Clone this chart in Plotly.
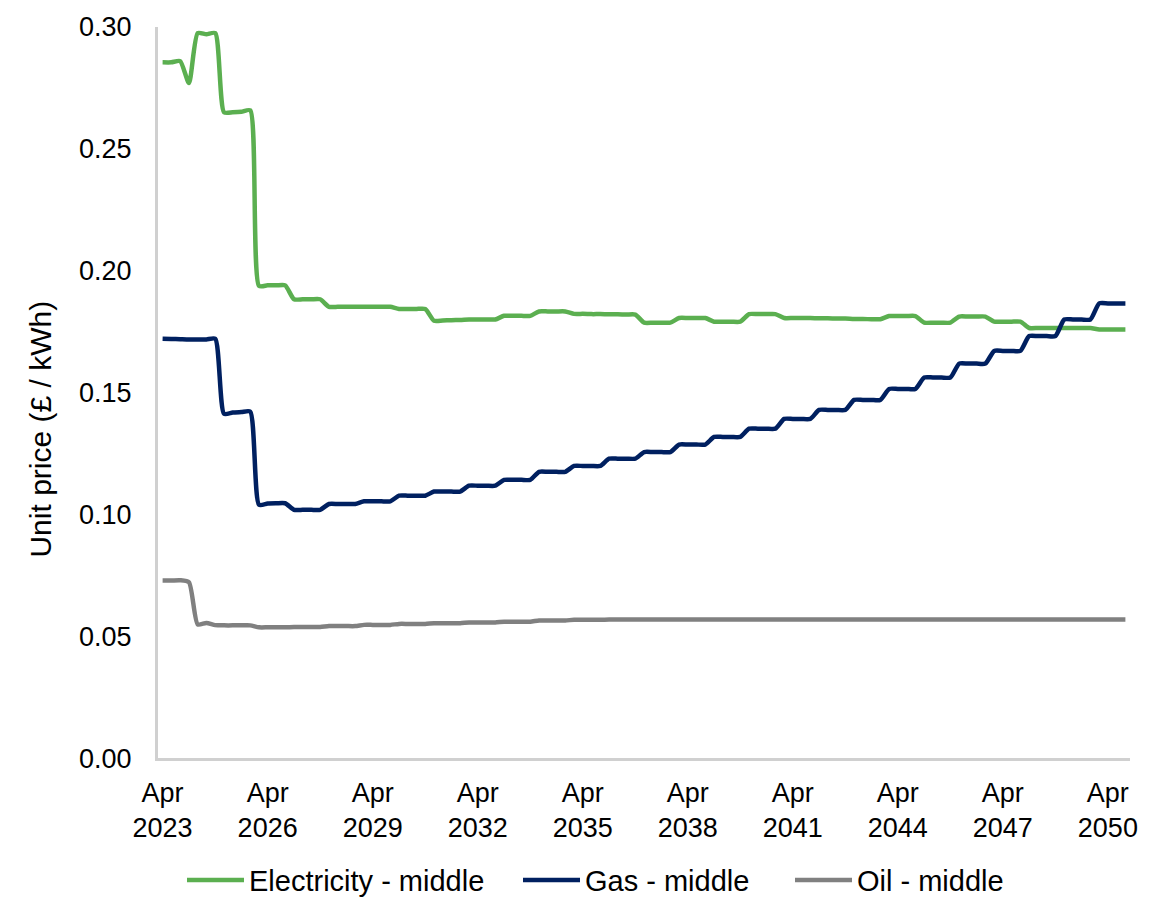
import pandas as pd
import plotly.graph_objects as go

# Quarterly dates: Apr 2023 ... Oct 2050
dates = pd.date_range("2023-04-01", "2050-10-01", freq="QS-JAN")

# Unit prices (£ / kWh), one value per quarter (Apr23, Jul23, Oct23, then Jan/Apr/Jul/Oct each year)
electricity = [
    0.2855, 0.2855, 0.2860,
    0.2770, 0.2975, 0.2970, 0.2975,   # 2024
    0.2650, 0.2650, 0.2652, 0.2658,   # 2025
    0.1938, 0.1940, 0.1940, 0.1940,   # 2026
    0.1883, 0.1883, 0.1883, 0.1883,   # 2027
    0.1852, 0.1852, 0.1852, 0.1852,   # 2028
    0.1852, 0.1852, 0.1852, 0.1852,   # 2029
    0.1843, 0.1843, 0.1843, 0.1843,   # 2030
    0.1795, 0.1796, 0.1797, 0.1798,   # 2031
    0.1800, 0.1800, 0.1800, 0.1800,   # 2032
    0.1815, 0.1815, 0.1815, 0.1815,   # 2033
    0.1833, 0.1833, 0.1833, 0.1833,   # 2034
    0.1823, 0.1823, 0.1822, 0.1822,   # 2035
    0.1821, 0.1821, 0.1820, 0.1820,   # 2036
    0.1787, 0.1787, 0.1787, 0.1787,   # 2037
    0.1806, 0.1806, 0.1806, 0.1806,   # 2038
    0.1791, 0.1791, 0.1791, 0.1791,   # 2039
    0.1822, 0.1822, 0.1822, 0.1822,   # 2040
    0.1806, 0.1806, 0.1806, 0.1806,   # 2041
    0.1805, 0.1805, 0.1804, 0.1804,   # 2042
    0.1802, 0.1802, 0.1801, 0.1801,   # 2043
    0.1814, 0.1814, 0.1814, 0.1814,   # 2044
    0.1787, 0.1787, 0.1787, 0.1787,   # 2045
    0.1812, 0.1812, 0.1812, 0.1812,   # 2046
    0.1791, 0.1791, 0.1791, 0.1791,   # 2047
    0.1765, 0.1765, 0.1765, 0.1765,   # 2048
    0.1765, 0.1765, 0.1765, 0.1765,   # 2049
    0.1759, 0.1759, 0.1759, 0.1759,   # 2050
]

gas = [
    0.1721, 0.1720, 0.1719,
    0.1718, 0.1718, 0.1718, 0.1721,   # 2024
    0.1413, 0.1418, 0.1420, 0.1422,   # 2025
    0.1040, 0.1045, 0.1046, 0.1046,   # 2026
    0.1019, 0.1019, 0.1019, 0.1019,   # 2027
    0.1043, 0.1043, 0.1043, 0.1043,   # 2028
    0.1054, 0.1054, 0.1054, 0.1054,   # 2029
    0.1077, 0.1077, 0.1077, 0.1077,   # 2030
    0.1094, 0.1094, 0.1094, 0.1094,   # 2031
    0.1118, 0.1118, 0.1118, 0.1118,   # 2032
    0.1142, 0.1142, 0.1142, 0.1142,   # 2033
    0.1175, 0.1175, 0.1175, 0.1175,   # 2034
    0.1199, 0.1199, 0.1199, 0.1199,   # 2035
    0.1229, 0.1229, 0.1229, 0.1229,   # 2036
    0.1256, 0.1256, 0.1256, 0.1256,   # 2037
    0.1287, 0.1287, 0.1287, 0.1287,   # 2038
    0.1318, 0.1318, 0.1318, 0.1318,   # 2039
    0.1352, 0.1352, 0.1352, 0.1352,   # 2040
    0.1392, 0.1392, 0.1392, 0.1392,   # 2041
    0.1429, 0.1429, 0.1429, 0.1429,   # 2042
    0.1470, 0.1470, 0.1470, 0.1470,   # 2043
    0.1515, 0.1515, 0.1515, 0.1515,   # 2044
    0.1562, 0.1562, 0.1562, 0.1562,   # 2045
    0.1619, 0.1619, 0.1619, 0.1619,   # 2046
    0.1671, 0.1671, 0.1671, 0.1671,   # 2047
    0.1732, 0.1732, 0.1732, 0.1732,   # 2048
    0.1800, 0.1800, 0.1800, 0.1800,   # 2049
    0.1866, 0.1866, 0.1866, 0.1866,   # 2050
]

oil = [
    0.0729, 0.0729, 0.0730,
    0.0722, 0.0549, 0.0555, 0.0546,   # 2024
    0.0545, 0.0545, 0.0545, 0.0545,   # 2025
    0.0537, 0.0537, 0.0537, 0.0537,   # 2026
    0.0538, 0.0538, 0.0538, 0.0538,   # 2027
    0.0542, 0.0542, 0.0542, 0.0542,   # 2028
    0.0547, 0.0547, 0.0547, 0.0547,   # 2029
    0.0551, 0.0551, 0.0551, 0.0551,   # 2030
    0.0554, 0.0554, 0.0554, 0.0554,   # 2031
    0.0557, 0.0557, 0.0557, 0.0557,   # 2032
    0.0560, 0.0560, 0.0560, 0.0560,   # 2033
    0.0565, 0.0565, 0.0565, 0.0565,   # 2034
    0.0568, 0.0568, 0.0568, 0.0568,   # 2035
    0.0569, 0.0569, 0.0569, 0.0569,   # 2036
    0.0569, 0.0569, 0.0569, 0.0569,   # 2037
    0.0569, 0.0569, 0.0569, 0.0569,   # 2038
    0.0569, 0.0569, 0.0569, 0.0569,   # 2039
    0.0569, 0.0569, 0.0569, 0.0569,   # 2040
    0.0569, 0.0569, 0.0569, 0.0569,   # 2041
    0.0569, 0.0569, 0.0569, 0.0569,   # 2042
    0.0569, 0.0569, 0.0569, 0.0569,   # 2043
    0.0569, 0.0569, 0.0569, 0.0569,   # 2044
    0.0569, 0.0569, 0.0569, 0.0569,   # 2045
    0.0569, 0.0569, 0.0569, 0.0569,   # 2046
    0.0569, 0.0569, 0.0569, 0.0569,   # 2047
    0.0569, 0.0569, 0.0569, 0.0569,   # 2048
    0.0569, 0.0569, 0.0569, 0.0569,   # 2049
    0.0569, 0.0569, 0.0569, 0.0569,   # 2050
]

tick_years = [2023, 2026, 2029, 2032, 2035, 2038, 2041, 2044, 2047, 2050]
tick_dates = [f"{y}-04-01" for y in tick_years]
tick_text = [f"Apr<br>{y}" for y in tick_years]

FONT = "Liberation Sans, Arial, sans-serif"
FS = 27
W, H = 1161, 900

series = [
    ("Electricity - middle", electricity, "#5BAF50", "legend"),
    ("Gas - middle", gas, "#002060", "legend2"),
    ("Oil - middle", oil, "#808080", "legend3"),
]
# left pixel edge of each legend entry's line symbol in the reference
legend_left_px = {"legend": 187, "legend2": 523, "legend3": 795}

fig = go.Figure()
for name, vals, col, lg in series:
    fig.add_trace(go.Scatter(
        x=dates, y=vals, name=name, mode="lines", legend=lg,
        line=dict(color=col, width=4.5, shape="spline", smoothing=0.6),
    ))

legend_common = dict(
    orientation="h", xref="container", yref="container",
    xanchor="left", y=0.022, yanchor="middle",
    font=dict(size=29, family=FONT, color="black"), itemwidth=57,
    bgcolor="rgba(0,0,0,0)",
)
legend_layout = {}
for lg, px in legend_left_px.items():
    legend_layout[lg] = dict(legend_common, x=(px - 5) / W)

fig.update_layout(
    width=W, height=H,
    paper_bgcolor="white", plot_bgcolor="white",
    margin=dict(l=158, r=31, t=22, b=140),
    font=dict(family=FONT, size=FS, color="black"),
    showlegend=True,
    annotations=[dict(
        text="Unit price (£ / kWh)", xref="paper", yref="paper",
        x=-0.121, y=0.45, textangle=-90, showarrow=False,
        font=dict(size=30, color="black"), xanchor="center", yanchor="middle",
    )],
    **legend_layout,
)

fig.update_xaxes(
    type="date", range=["2023-02-12", "2050-11-18"],
    tickvals=tick_dates, ticktext=tick_text,
    showline=True, linecolor="#D0D0D0", linewidth=3,
    showgrid=False, zeroline=False, ticks="",
    ticklabelstandoff=8,
    tickfont=dict(size=FS, color="black"),
)
fig.update_yaxes(
    range=[0, 0.30], dtick=0.05, tickformat=".2f",
    showline=True, linecolor="#D0D0D0", linewidth=3,
    showgrid=False, zeroline=False, ticks="",
    ticklabelstandoff=18,
    tickfont=dict(size=FS, color="black"),
)

fig.write_html("out.html")
